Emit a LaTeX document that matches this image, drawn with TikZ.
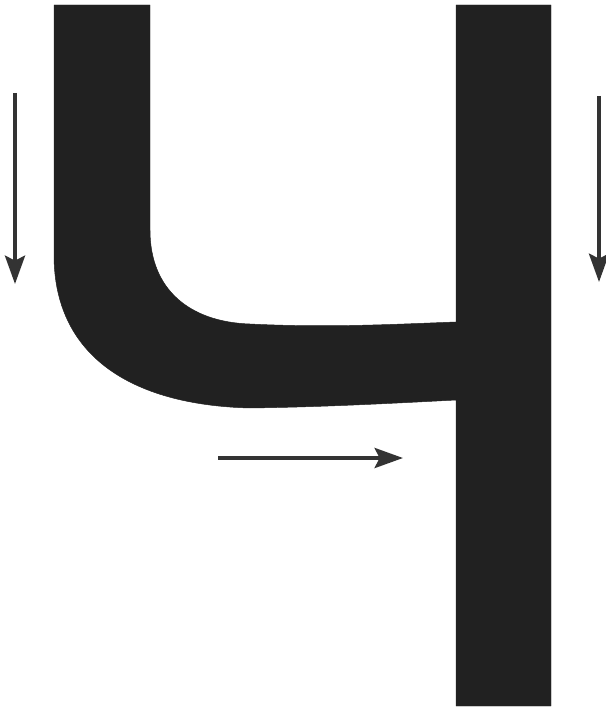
\documentclass[tikz,border=0pt]{standalone}
\usepackage{xcolor}
\usepackage{tikz}
\usetikzlibrary{arrows.meta}

\begin{document}
\begin{tikzpicture}[
            x=0.03cm, y=-0.03cm,               % coordenadas en pixeles de la imagen
            duct/.style={
                fill=black!87,
                draw=black!87,
                line join=round
            },
            flow/.style={
                draw=black!80,
                line width=3.5pt,
                -{Stealth[length=8.5mm, width=6mm, inset=1.5mm]}
            }
        ]
            \useasboundingbox (0,0) rectangle (605,707);

            % --- CONDUCTO ---
            \path [duct] (54,5) -- (150,5) -- (150,230)
                .. controls (150,290) and (190,322) .. (250,324)
                .. controls (330,328) and (400,324) .. (456,322)
                -- (456,5) -- (551,5) -- (551,706) -- (456,706) -- (456,400)
                .. controls (380,404) and (320,407) .. (250,408)
                .. controls (130,405) and (54,355) .. (54,255)
                -- cycle;

            % --- FLECHAS ---
            \coordinate (leftA)  at (15,93);
            \coordinate (leftB)  at (15,284);
            \coordinate (rightA) at (599,96);
            \coordinate (rightB) at (599,282);
            \coordinate (midA)   at (218,458);
            \coordinate (midB)   at (403,458);

            \path [flow] (leftA) -- (leftB);
            \path [flow] (rightA) -- (rightB);
            \path [flow] (midA) -- (midB);
        \end{tikzpicture}
\end{document}
